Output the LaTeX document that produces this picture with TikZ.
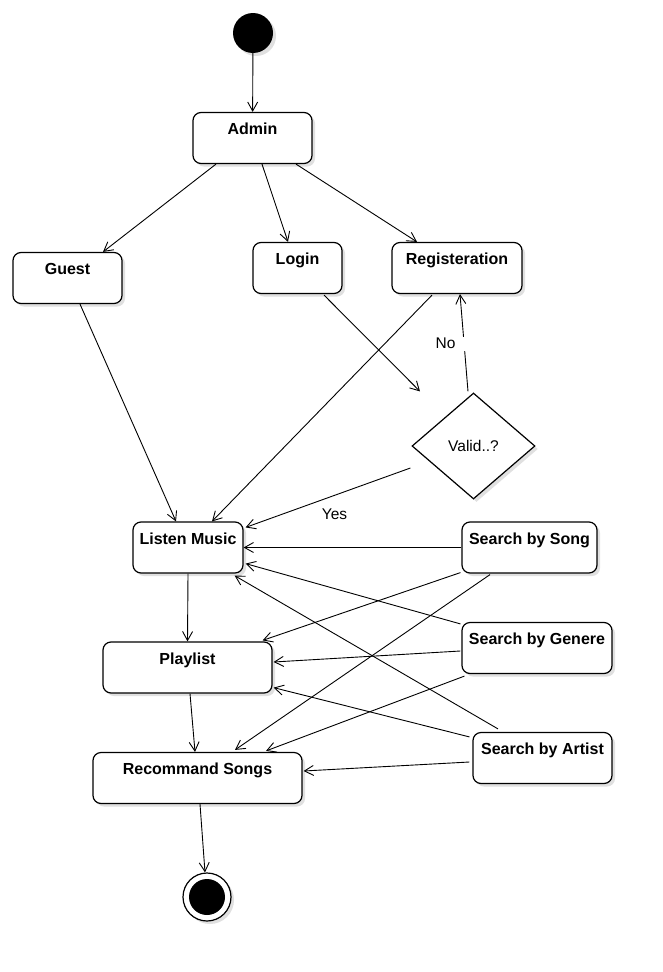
\documentclass[tikz,border=0pt]{standalone}
\usepackage{fontspec}
\setmainfont{Liberation Sans}
\usetikzlibrary{arrows.meta,shapes.geometric,shadows,calc}
\tikzset{
  shd/.style={drop shadow={shadow xshift=3pt,shadow yshift=-3pt,fill=black!12,opacity=1}},
  statebox/.style={draw, line width=1.2pt, rounded corners=8pt, fill=white, shd,
    inner sep=0pt, text height=22pt, text depth=29pt, minimum height=51pt,
    font=\bfseries\fontsize{16}{18}\selectfont},
  flow/.style={draw, line width=0.9pt, -{Straight Barb[length=9pt,width=10pt]}},
  lbl/.style={font=\fontsize{15.5}{18}\selectfont, inner sep=1pt},
}
\begin{document}
\begin{tikzpicture}[x=1pt,y=-1pt]
\useasboundingbox[fill=white] (0,0) rectangle (663,972);

% nodes
\node[circle, fill=black, minimum size=40pt, inner sep=0pt, shd] (start) at (253,33) {};
\node[statebox, minimum width=119pt] (admin) at (252.5,138) {Admin};
\node[statebox, minimum width=109pt] (guest) at (67.5,278) {Guest};
\node[statebox, minimum width=89pt] (login) at (297.5,268) {Login};
\node[statebox, minimum width=130pt] (reg) at (457,268) {Registeration};
\node[diamond, aspect=1.16, draw, line width=1.2pt, fill=white, shd, inner sep=0pt,
      minimum width=123pt, minimum height=106pt, lbl] (valid) at (473.5,446) {Valid..?};
\node[statebox, minimum width=110pt] (listen) at (188,547.5) {Listen Music};
\node[statebox, minimum width=135pt] (song) at (529.5,547.5) {Search by Song};
\node[statebox, minimum width=169pt] (playlist) at (187.5,667.5) {Playlist};
\node[statebox, minimum width=150pt] (genere) at (537,648) {Search by Genere};
\node[statebox, minimum width=209pt] (recommand) at (197.5,778) {Recommand Songs};
\node[statebox, minimum width=139pt] (artist) at (542.5,758) {Search by Artist};
\node[circle, draw, line width=1.2pt, fill=white, minimum size=48pt, inner sep=0pt, shd,
      path picture={\fill[black] (path picture bounding box.center) circle (18pt);}] (final) at (207,897) {};

% connectors
\draw[flow] (start) -- (admin);
\draw[flow] ($(admin.south)+(-36.5,0)$) -- ($(guest.north)+(35.5,0)$);
\draw[flow] ($(admin.south)+(9.5,0)$) -- ($(login.north)+(-9.5,0)$);
\draw[flow] ($(admin.south)+(43.5,0)$) -- ($(reg.north)+(-40,0)$);
\draw[flow] ($(login.south)+(26.5,1)$) -- ($(valid.north)+(-53.5,-1)$);
\draw[flow] ($(valid.north)+(-5.5,-1)$) -- ($(reg.south)+(3,0)$)
  node[pos=0.49, xshift=-9pt, fill=white, inner xsep=3pt, inner ysep=0pt,
       text width=39pt, align=left, minimum height=14pt, lbl] (nolbl) {No};
\draw[flow] ($(reg.south)+(-25,1)$) -- ($(listen.north)+(24,0)$);
\draw[flow] ($(guest.south)+(12.5,0)$) -- ($(listen.north)+(-12,0)$);
\draw[flow] ($(valid.west)+(-1,22)$) -- ($(listen.north east)+(2,6)$)
  node[pos=0.46, yshift=-18.5pt, lbl] (yeslbl) {Yes};
\draw[flow] (song.west) -- (listen.east);
\draw[flow] ($(song.south west)+(-1,-1)$) -- ($(playlist.north east)+(-10,-1)$);
\draw[flow] ($(song.south)+(-39.5,1)$) -- ($(recommand.north)+(37.5,-2)$);
\draw[flow] ($(genere.north west)+(-1,2)$) -- ($(listen.south east)+(2,-10)$);
\draw[flow] ($(genere.west)+(-1,3)$) -- ($(playlist.east)+(1,-5.5)$);
\draw[flow] ($(genere.south west)+(3,2)$) -- ($(recommand.north)+(68.5,-1)$);
\draw[flow] ($(artist.north)+(-44.5,-3)$) -- ($(listen.south east)+(-9,2)$);
\draw[flow] ($(artist.north west)+(-3,5)$) -- ($(playlist.south east)+(1,-6)$);
\draw[flow] ($(artist.west)+(-3,4)$) -- ($(recommand.east)+(1,-7)$);
\draw[flow] (listen.south) -- (playlist.north);
\draw[flow] ($(playlist.south)+(2.5,0)$) -- ($(recommand.north)+(-2.5,0)$);
\draw[flow] ($(recommand.south)+(2.5,0)$) -- ($(final.north)+(-2,0)$);
\end{tikzpicture}
\end{document}
